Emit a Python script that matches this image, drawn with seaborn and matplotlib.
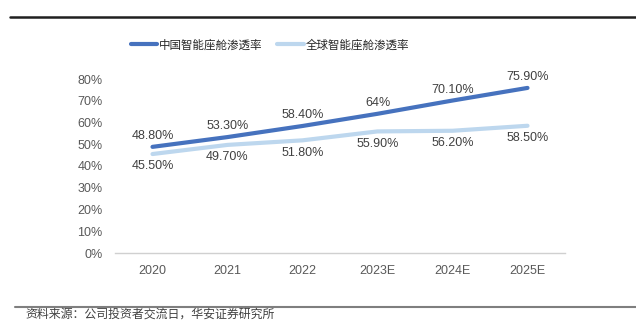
import matplotlib
matplotlib.use("Agg")
import matplotlib.pyplot as plt
import seaborn as sns
import pandas as pd
from matplotlib.lines import Line2D

years = ["2020", "2021", "2022", "2023E", "2024E", "2025E"]
china = [48.8, 53.3, 58.4, 64.0, 70.1, 75.9]
world = [45.5, 49.7, 51.8, 55.9, 56.2, 58.5]
china_labels = ["48.80%", "53.30%", "58.40%", "64%", "70.10%", "75.90%"]
world_labels = ["45.50%", "49.70%", "51.80%", "55.90%", "56.20%", "58.50%"]
series_names = ["中国智能座舱渗透率", "全球智能座舱渗透率"]
source = "资料来源：公司投资者交流日，华安证券研究所"

sns.set_theme(style="white")
plt.rcParams["font.family"] = ["Liberation Sans", "Noto Sans CJK SC", "DejaVu Sans"]

df = pd.DataFrame({
    "year": years * 2,
    "value": china + world,
    "series": [series_names[0]] * 6 + [series_names[1]] * 6,
})

c_dark = "#4672BE"
c_light = "#BDD7EE"
gray = "#595959"

fig = plt.figure(figsize=(6.36, 3.30), dpi=100)
ax = fig.add_axes([115 / 636, 77 / 330, 450 / 636, 174 / 330])
sns.lineplot(data=df, x="year", y="value", hue="series", sort=False,
             palette=[c_dark, c_light], linewidth=3.0, ax=ax, legend=False)

ax.set_xlim(-0.5, 5.5)
ax.set_ylim(0, 80)
ax.set_yticks(range(0, 81, 10))
ax.set_yticklabels([f"{v}%" for v in range(0, 81, 10)])
ax.set_xlabel("")
ax.set_ylabel("")
for s in ["top", "right", "left"]:
    ax.spines[s].set_visible(False)
ax.spines["bottom"].set_color("#D0D0D0")
ax.spines["bottom"].set_linewidth(1.0)
ax.tick_params(axis="both", length=0, labelsize=9, labelcolor=gray)
ax.tick_params(axis="x", pad=9)
ax.tick_params(axis="y", pad=9)

for i, (v, lab) in enumerate(zip(china, china_labels)):
    ax.annotate(lab, (i, v), xytext=(0, 3.5), textcoords="offset points",
                ha="center", va="bottom", fontsize=9, color="#404040")
for i, (v, lab) in enumerate(zip(world, world_labels)):
    ax.annotate(lab, (i, v), xytext=(0, -4.5), textcoords="offset points",
                ha="center", va="top", fontsize=9, color="#404040")

handles = [Line2D([], [], color=c_dark, lw=3),
           Line2D([], [], color=c_light, lw=3)]
fig.legend(handles, series_names, loc="center", bbox_to_anchor=(270 / 636, 1 - 45 / 330),
           ncol=2, frameon=False, handlelength=2.3, handletextpad=0.15,
           columnspacing=1.3, prop={"family": ["Noto Sans CJK SC"], "size": 8.3})

fig.add_artist(Line2D([10 / 636, 1.0], [1 - 17 / 330] * 2, color="#202020", lw=1.8))
fig.add_artist(Line2D([15 / 636, 1.0], [1 - 307 / 330] * 2, color="#7F7F7F", lw=1.5))
fig.text(25 / 636, 1 - 314 / 330, source, fontsize=8.6, color="#404040",
         family=["Noto Sans CJK SC"], ha="left", va="center")

fig.savefig("out.png", dpi=100)
